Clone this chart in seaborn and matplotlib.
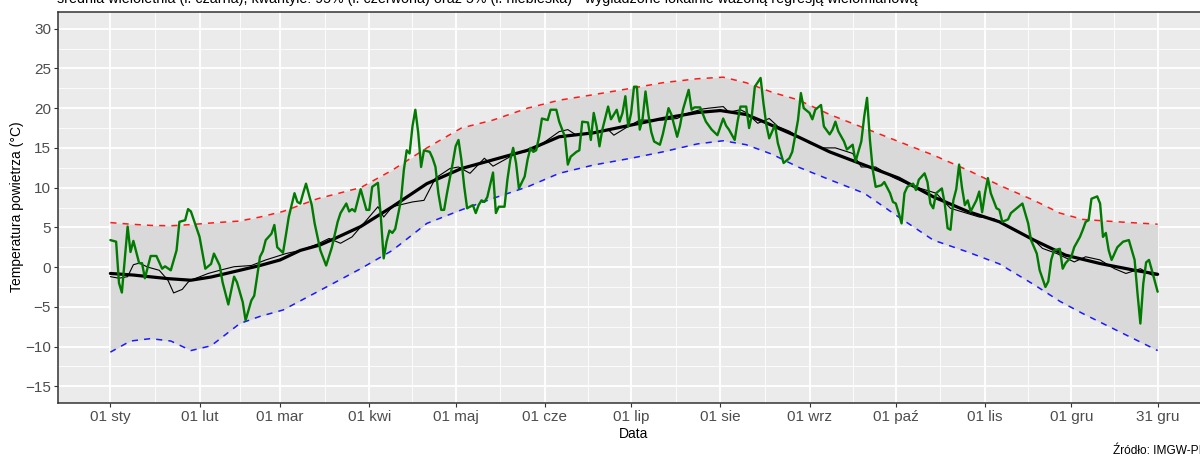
import numpy as np
import pandas as pd
import matplotlib
matplotlib.use("Agg")
import matplotlib.pyplot as plt
import matplotlib.dates as mdates
import seaborn as sns

# ---------------- data (day of year offset from 01 Jan, temperature in °C) ----------------
green_days = [0, 2, 3, 4, 6, 7, 8, 10, 11, 12, 14, 16, 18, 19, 21, 23, 24, 26, 27, 28,
              31, 33, 35, 36, 38, 39, 41, 43, 44, 46, 47, 49, 50, 51, 52, 53, 54, 56, 57, 58,
              60, 61, 62, 64, 65, 66, 67, 68, 70, 71, 73, 75, 77, 79, 80, 82, 83, 84, 85, 87,
              89, 90, 91, 93, 94, 95, 96, 97, 98, 99, 101, 102, 103, 104, 105, 106, 107, 108, 109, 111,
              112, 113, 114, 115, 116, 117, 119, 120, 121, 122, 123, 124, 126, 127, 128, 129, 130, 131, 133, 134,
              135, 137, 138, 139, 140, 141, 142, 144, 145, 146, 147, 148, 149, 150, 152, 153, 155, 156, 158, 159,
              160, 162, 163, 164, 166, 167, 168, 169, 170, 171, 173, 174, 175, 176, 177, 178, 179, 180, 181, 182,
              183, 184, 185, 186, 187, 188, 189, 191, 192, 194, 195, 197, 198, 199, 201, 202, 203, 205, 207, 209,
              211, 213, 214, 215, 217, 218, 219, 221, 222, 223, 224, 226, 227, 228, 229, 231, 232, 234, 236, 237,
              239, 240, 241, 243, 244, 245, 247, 248, 250, 251, 252, 253, 255, 256, 258, 259, 261, 262, 263, 264,
              265, 266, 268, 269, 271, 272, 273, 274, 275, 276, 277, 279, 280, 281, 283, 284, 285, 286, 287, 289,
              290, 291, 292, 293, 294, 295, 296, 297, 298, 299, 301, 302, 303, 304, 305, 306, 308, 309, 310, 312,
              313, 315, 317, 319, 320, 322, 323, 325, 326, 327, 328, 330, 331, 332, 334, 335, 337, 338, 339, 340,
              341, 343, 344, 345, 346, 347, 348, 349, 350, 352, 354, 356, 357, 358, 359, 360, 361, 362, 364]
green_temp = [3.4, 3.2, -2.0, -3.2, 5.1, 1.9, 3.3, 0.5, 0.5, -1.4, 1.4, 1.4, -0.2, 0.1, -0.4, 2.1, 5.7, 5.9, 7.3, 7.0,
              3.8, -0.2, 0.4, 1.7, 0.2, -1.9, -4.7, -1.2, -1.9, -4.4, -6.7, -4.2, -3.6, -1.2, 1.3, 2.0, 3.4, 4.2, 5.3, 2.5,
              1.8, 4.0, 6.3, 9.3, 8.2, 8.0, 9.3, 10.5, 7.8, 5.5, 2.1, 0.2, 2.5, 5.7, 6.8, 8.0, 7.0, 7.3, 7.0, 9.8,
              7.2, 7.2, 10.1, 10.6, 6.3, 1.1, 3.2, 4.6, 4.3, 4.8, 8.4, 12.2, 14.7, 14.3, 17.7, 19.8, 16.9, 12.6, 14.7, 14.5,
              13.7, 12.6, 9.3, 7.2, 7.2, 9.3, 13.1, 15.2, 16.0, 13.5, 10.1, 7.4, 7.8, 6.8, 7.8, 8.4, 8.2, 8.8, 11.9, 6.8,
              7.6, 7.6, 11.0, 13.5, 15.0, 13.1, 9.9, 11.4, 13.5, 15.0, 14.5, 14.7, 16.4, 18.7, 18.5, 19.8, 19.8, 18.3, 16.4, 12.9,
              13.9, 14.5, 14.7, 18.3, 18.2, 16.0, 19.4, 17.7, 15.2, 17.3, 20.2, 18.6, 19.2, 19.8, 18.3, 19.4, 21.5, 17.7, 19.4, 22.7,
              22.7, 17.3, 18.7, 22.1, 19.2, 17.0, 15.8, 15.4, 16.7, 20.0, 19.2, 16.4, 17.8, 19.8, 22.3, 19.8, 20.1, 20.1, 18.3, 17.3,
              16.6, 18.7, 17.8, 17.3, 16.0, 18.3, 20.2, 20.2, 17.5, 19.2, 22.7, 23.8, 20.6, 17.9, 16.2, 17.9, 15.6, 13.1, 13.7, 14.5,
              18.5, 21.9, 20.0, 19.4, 18.6, 19.8, 20.4, 17.7, 16.7, 17.3, 18.3, 17.1, 15.8, 14.8, 15.4, 13.3, 15.8, 18.9, 21.3, 16.0,
              12.2, 10.1, 10.3, 10.7, 9.3, 8.2, 8.0, 6.8, 5.5, 9.3, 10.1, 10.5, 9.7, 11.0, 11.8, 10.7, 8.0, 7.4, 9.3, 9.9,
              8.0, 4.9, 4.7, 8.4, 9.8, 12.9, 10.0, 7.8, 8.4, 7.0, 8.4, 9.5, 6.9, 9.3, 11.2, 9.3, 7.4, 7.2, 5.7, 6.0,
              6.8, 7.4, 8.0, 5.5, 3.4, 1.7, -0.4, -2.5, -1.8, 0.9, 2.1, 2.3, -0.2, 0.5, 1.3, 2.5, 3.8, 4.7, 5.7, 5.9,
              8.6, 8.9, 8.0, 3.8, 4.3, 2.1, 0.9, 1.7, 2.5, 3.2, 3.4, 0.9, -3.3, -7.1, -2.1, 0.6, 0.9, -0.4, -3.1]

mean_days = [0, 3, 6, 8, 10, 13, 15, 17, 20, 22, 25, 27, 28, 34, 38, 43, 49, 54, 61, 66,
             72, 76, 80, 84, 89, 93, 95, 98, 105, 109, 113, 118, 121, 125, 130, 133, 137, 141, 147, 150,
             156, 159, 162, 168, 173, 175, 180, 184, 192, 197, 201, 206, 208, 213, 215, 219, 221, 225, 229, 232,
             236, 243, 247, 252, 258, 261, 266, 272, 278, 287, 292, 302, 307, 314, 321, 324, 329, 335, 339, 344,
             349, 353, 358, 362, 364]
mean_temp = [-1.2, -1.4, -1.2, 0.3, 0.5, 0.0, -0.2, -0.4, -1.65, -3.25, -2.8, -1.9, -1.65, -0.8, -0.4, 0.05, 0.2, 0.9, 1.7, 2.1,
             2.9, 3.6, 3.0, 3.8, 5.9, 7.6, 6.3, 7.6, 8.2, 8.4, 11.2, 12.4, 12.6, 11.8, 13.7, 12.7, 13.5, 14.3, 14.7, 15.5,
             17.05, 17.3, 16.6, 16.9, 17.3, 16.6, 17.7, 18.5, 18.5, 18.7, 19.4, 19.9, 20.0, 20.2, 19.5, 19.8, 19.45, 18.1, 18.7, 17.7,
             17.1, 15.6, 15.0, 15.0, 14.3, 12.6, 12.6, 11.3, 10.3, 9.3, 7.4, 6.3, 6.1, 4.65, 3.4, 2.35, 1.7, 0.65, 1.3, 0.9,
             -0.2, -0.8, -0.2, -1.0, -1.0]

smooth_days = [0, 8, 20, 28, 35, 45, 52, 59, 66, 73, 78, 87, 98, 110, 122, 133, 145, 156, 168, 180,
               192, 204, 212, 221, 227, 239, 250, 262, 274, 286, 298, 309, 321, 332, 344, 356, 364]
smooth_temp = [-0.8, -1.0, -1.45, -1.65, -1.25, -0.4, 0.2, 0.9, 2.1, 2.8, 3.6, 5.1, 7.6, 10.5, 12.4, 13.5, 14.7, 16.4, 16.9, 17.8,
               18.7, 19.45, 19.7, 19.2, 18.3, 16.4, 14.5, 12.85, 11.2, 8.85, 7.0, 5.7, 3.4, 1.5, 0.45, -0.4, -0.9]

q_days = [0, 7, 14, 21, 28, 35, 45, 52, 60, 72, 87, 98, 110, 122, 133, 145, 156, 168, 181, 192,
          204, 213, 221, 230, 239, 250, 262, 274, 286, 298, 309, 321, 330, 338, 350, 364]
q95_temp = [5.6, 5.4, 5.25, 5.2, 5.35, 5.55, 5.8, 6.3, 7.0, 8.6, 10.0, 12.2, 15.0, 17.5, 18.5, 20.0, 21.0, 21.7, 22.5, 23.2,
            23.7, 23.9, 23.2, 22.0, 21.05, 19.2, 17.5, 15.8, 14.1, 12.2, 10.3, 8.4, 6.8, 6.0, 5.7, 5.4]
q05_temp = [-10.7, -9.3, -9.0, -9.3, -10.5, -9.9, -7.1, -6.2, -5.4, -3.1, -0.2, 2.1, 5.5, 7.2, 8.65, 10.1, 11.8, 12.85, 13.7, 14.5,
            15.5, 15.9, 15.4, 14.2, 12.6, 11.0, 9.3, 6.3, 3.4, 1.9, 0.4, -2.2, -4.3, -5.85, -8.0, -10.5]

tick_days = [0, 31, 59, 90, 120, 151, 181, 212, 243, 273, 304, 334, 364]
tick_labels = ["01 sty", "01 lut", "01 mar", "01 kwi", "01 maj", "01 cze", "01 lip",
               "01 sie", "01 wrz", "01 paź", "01 lis", "01 gru", "31 gru"]
y_ticks = [-15, -10, -5, 0, 5, 10, 15, 20, 25, 30]

title_text = ("średnia wieloletnia (l. czarna), kwantyle: 95% (l. czerwona) oraz 5% (l. niebieska)"
              " - wygładzone lokalnie ważoną regresją wielomianową")
source_text = "Źródło: IMGW-PIB"

# ---------------- build frames ----------------
base = pd.Timestamp("2023-01-01")
to_date = lambda d: base + pd.to_timedelta(np.asarray(d, dtype=float), unit="D")

df_green = pd.DataFrame({"date": to_date(green_days), "temp": green_temp})
df_mean = pd.DataFrame({"date": to_date(mean_days), "temp": mean_temp})
df_smooth = pd.DataFrame({"date": to_date(smooth_days), "temp": smooth_temp})
df_q = pd.DataFrame({"date": to_date(q_days), "q95": q95_temp, "q05": q05_temp})

# ---------------- style ----------------
sns.set_theme(style="darkgrid", rc={
    "axes.facecolor": "#EBEBEB",
    "grid.color": "white",
    "axes.edgecolor": "#333333",
})
plt.rcParams["font.family"] = ["Liberation Sans", "DejaVu Sans"]

W, H = 1200, 457
fig = plt.figure(figsize=(W / 100, H / 100), dpi=100)
fig.patch.set_facecolor("white")
left, right, top, bottom = 58, 1210, 12, 403
ax = fig.add_axes([left / W, (H - bottom) / H, (right - left) / W, (bottom - top) / H])

ax.fill_between(df_q["date"], df_q["q05"], df_q["q95"], color="#D9D9D9", lw=0, zorder=1)
sns.lineplot(data=df_q, x="date", y="q95", color="#FF1A1A", linewidth=1.1,
             linestyle=(0, (4, 4)), ax=ax, zorder=2)
sns.lineplot(data=df_q, x="date", y="q05", color="#1A1AFF", linewidth=1.1,
             linestyle=(0, (4, 4)), ax=ax, zorder=2)
sns.lineplot(data=df_mean, x="date", y="temp", color="black", linewidth=0.8, ax=ax, zorder=3)
sns.lineplot(data=df_smooth, x="date", y="temp", color="black", linewidth=2.3, ax=ax, zorder=4)
sns.lineplot(data=df_green, x="date", y="temp", color="#007A00", linewidth=1.7, ax=ax, zorder=5)

# ---------------- axes ----------------
span = 364
ax.set_xlim(mdates.date2num(to_date([-0.05 * span]))[0], mdates.date2num(to_date([span * 1.05]))[0])
ax.set_ylim(-17.1, 32.1)

tick_dates = to_date(tick_days)
ax.set_xticks(tick_dates)
ax.set_xticklabels(tick_labels)
minor_days = [(a + b) / 2 for a, b in zip(tick_days[:-1], tick_days[1:])]
ax.set_xticks(to_date(minor_days), minor=True)
ax.set_yticks(y_ticks)
ax.set_yticks([v + 2.5 for v in y_ticks[:-1]], minor=True)

ax.grid(which="major", color="white", linewidth=1.3)
ax.grid(which="minor", color="white", linewidth=0.6)
ax.set_axisbelow(True)

ax.tick_params(which="major", length=3, width=0.8, color="#333333",
               labelcolor="#4D4D4D", labelsize=11, pad=2,
               bottom=True, left=True)
ax.tick_params(which="minor", length=0)
for s in ax.spines.values():
    s.set_visible(True)
    s.set_color("#333333")
    s.set_linewidth(1.1)

ax.set_xlabel("")
ax.set_ylabel("")

fig.text(17 / W, (H - 207) / H, "Temperatura powietrza (°C)", rotation=90,
         ha="center", va="center", fontsize=10, color="black")
fig.text(634 / W, (H - 434) / H, "Data", ha="center", va="center", fontsize=10, color="black")
fig.text(57 / W, (H - 3) / H, title_text, ha="left", va="baseline", fontsize=10.3, color="black")
fig.text(1113 / W, 3 / H, source_text, ha="left", va="baseline", fontsize=8.6, color="black")

fig.savefig("out.png", dpi=100)
